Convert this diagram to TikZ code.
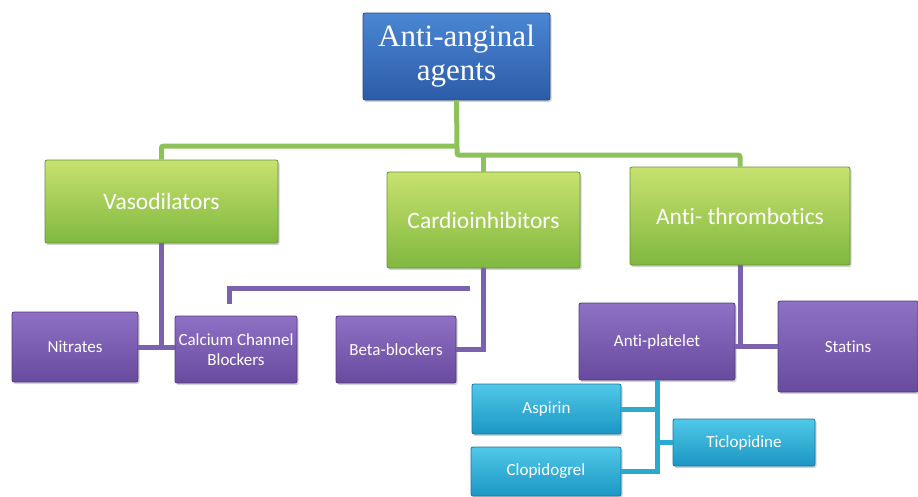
\documentclass[tikz,border=0pt]{standalone}
\usepackage{fontspec}
\setmainfont{Carlito}[Ligatures=NoCommon]
\newfontfamily\serifhead{Liberation Serif}
\usetikzlibrary{shadows}
\definecolor{gtop}{RGB}{200,226,110}
\definecolor{gbot}{RGB}{128,184,64}
\definecolor{gline}{RGB}{141,193,90}
\definecolor{ptop}{RGB}{142,112,196}
\definecolor{pbot}{RGB}{104,74,158}
\definecolor{pline}{RGB}{122,98,174}
\definecolor{btop}{RGB}{74,134,212}
\definecolor{bbot}{RGB}{44,92,168}
\definecolor{ltop}{RGB}{80,200,232}
\definecolor{lbot}{RGB}{28,150,196}
\definecolor{lline}{RGB}{43,170,207}
\tikzset{
  boxbase/.style={draw, line width=0.8pt, rounded corners=2pt, align=center, text=white, inner sep=2pt,
    drop shadow={shadow xshift=1.5pt, shadow yshift=-2pt, opacity=0.35}},
  topbox/.style={boxbase, draw=bbot!80!black, top color=btop, bottom color=bbot, font=\serifhead\fontsize{31}{34}\selectfont},
  greenbox/.style={boxbase, draw=gbot!80!black, top color=gtop, bottom color=gbot, font=\fontsize{23.5}{28}\selectfont},
  purplebox/.style={boxbase, draw=pbot!80!black, top color=ptop, bottom color=pbot, font=\fontsize{17}{20}\selectfont},
  bluebox/.style={boxbase, draw=lbot!80!black, top color=ltop, bottom color=lbot, font=\fontsize{17}{20}\selectfont},
  greenline/.style={draw=gline, line width=5pt, rounded corners=2pt},
  purpleline/.style={draw=pline, line width=5pt},
  blueline/.style={draw=lline, line width=5pt},
}
\begin{document}
\begin{tikzpicture}[x=1pt,y=-1pt]
\useasboundingbox (0,0) rectangle (918,496);
% nodes
\node[topbox, minimum width=187pt, minimum height=87pt] (top) at (456.5,56.5) {\raisebox{-3pt}{\begin{tabular}{@{}c@{}}Anti-anginal\\agents\end{tabular}}};
\node[greenbox, minimum width=233pt, minimum height=83pt] (vaso) at (161.5,201.5) {Vasodilators};
\node[greenbox, minimum width=193pt, minimum height=96pt] (cardio) at (483.5,220) {Cardioinhibitors};
\node[greenbox, minimum width=220pt, minimum height=98pt] (anti) at (740,216) {Anti- thrombotics};
\node[purplebox, minimum width=126pt, minimum height=70pt] (nitr) at (75,347) {Nitrates};
\node[purplebox, minimum width=122pt, minimum height=67pt] (ccb) at (236,349.5) {Calcium Channel\\Blockers};
\node[purplebox, minimum width=120pt, minimum height=67pt] (beta) at (396,349.5) {Beta-blockers};
\node[purplebox, minimum width=156pt, minimum height=77pt] (plat) at (657,341.5) {Anti-platelet};
\node[purplebox, minimum width=140pt, minimum height=91pt] (stat) at (848,346.5) {Statins};
\node[bluebox, minimum width=149pt, minimum height=50pt] (asp) at (546.5,409) {Aspirin};
\node[bluebox, minimum width=142pt, minimum height=47pt] (tic) at (744,442.5) {Ticlopidine};
\node[bluebox, minimum width=150pt, minimum height=49pt] (clop) at (546,471.5) {Clopidogrel};
% green connectors
\coordinate (g1) at (457,146);
\coordinate (g2) at (457,155);
\draw[greenline] (top.south) -- (g1) -| (vaso.north);
\draw[greenline] (g1) -- (g2) -| (anti.north);
\draw[greenline] (g2 -| cardio.north) -- (cardio.north);
% purple connectors
\coordinate (v1) at (vaso.south |- nitr.east);
\draw[purpleline] (vaso.south) -- (v1);
\draw[purpleline] (nitr.east) -- (nitr.east -| ccb.west);
\coordinate (f1) at (229,304);
\coordinate (f2) at (470,288);
\draw[purpleline] (f1) |- (f2);
\draw[purpleline] (cardio.south) |- (beta.east);
\coordinate (a1) at (740,346);
\draw[purpleline] (anti.south) -- (a1);
\draw[purpleline] (plat.east |- a1) -- (stat.west |- a1);
% blue connectors
\draw[blueline] (plat.south) -- (plat.south |- clop.east) -- (clop.east);
\draw[blueline] (asp.east) -- (asp.east -| plat.south);
\draw[blueline] (tic.west) -- (tic.west -| plat.south);
\end{tikzpicture}
\end{document}
